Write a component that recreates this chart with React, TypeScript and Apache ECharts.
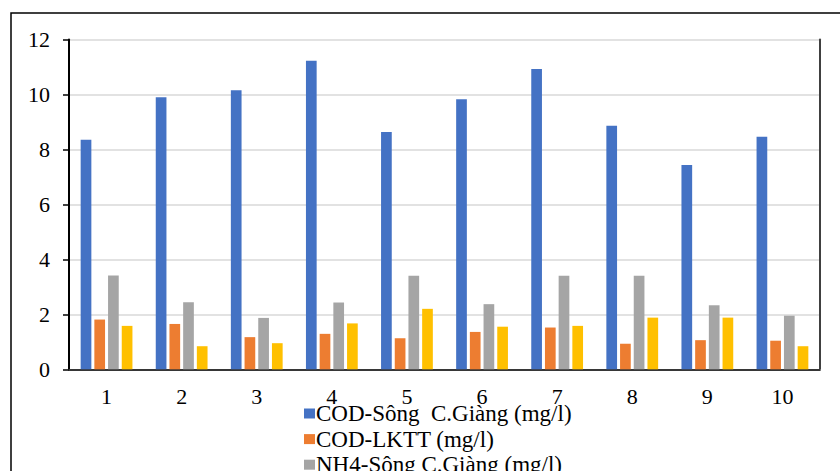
import React, { useEffect, useRef } from "react";
import * as echarts from "echarts";

// Sampling rounds 1..10
const categories = ["1", "2", "3", "4", "5", "6", "7", "8", "9", "10"];

const seriesNames = [
  "COD-Sông  C.Giàng (mg/l)",
  "COD-LKTT (mg/l)",
  "NH4-Sông C.Giàng (mg/l)",
  "NH4-LKTT (mg/l)",
];

const codSong = [8.35, 9.9, 10.15, 11.23, 8.63, 9.83, 10.93, 8.86, 7.43, 8.46];
const codLktt = [1.81, 1.65, 1.17, 1.29, 1.13, 1.36, 1.52, 0.93, 1.06, 1.04];
const nh4Song = [3.41, 2.44, 1.87, 2.43, 3.4, 2.37, 3.4, 3.4, 2.33, 1.95];
const nh4Lktt = [1.58, 0.84, 0.95, 1.67, 2.2, 1.55, 1.58, 1.88, 1.88, 0.84];

const colors = ["#4472C4", "#ED7D31", "#A5A5A5", "#FFC000"];

const FONT = "Liberation Serif";

export default function App() {
  const ref = useRef<HTMLDivElement>(null);

  useEffect(() => {
    if (!ref.current) return;
    const chart = echarts.init(ref.current, undefined, { renderer: "svg" });
    const values = [codSong, codLktt, nh4Song, nh4Lktt];

    chart.setOption({
      animation: false,
      color: colors,
      textStyle: { fontFamily: FONT },
      grid: { left: 69, right: 20, top: 39.5, bottom: 101.7, containLabel: false },
      graphic: [
        {
          type: "rect",
          shape: { x: 11, y: 13, width: 900, height: 600 },
          style: { fill: "none", stroke: "#000", lineWidth: 1.5 },
          silent: true,
        },
      ],
      legend: {
        orient: "vertical",
        left: 304,
        top: 402,
        padding: 0,
        height: 200,
        itemWidth: 11,
        itemHeight: 10,
        itemGap: 2.6,
        icon: "rect",
        textStyle: {
          fontFamily: FONT,
          fontSize: 23,
          lineHeight: 18,
          color: "#000",
          padding: [0, 0, 0, -4],
        },
        data: seriesNames,
      },
      xAxis: [
        {
          type: "category",
          data: categories,
          axisLine: { lineStyle: { color: "#d9d9d9", width: 2 } },
          axisTick: { show: false },
          axisLabel: { color: "#000", fontSize: 22, lineHeight: 16, fontFamily: FONT, margin: 19 },
        },
        {
          type: "category",
          position: "top",
          data: categories,
          axisLine: { lineStyle: { color: "#000", width: 1.5 } },
          axisTick: { show: false },
          axisLabel: { show: false },
        },
      ],
      yAxis: [
        {
          type: "value",
          min: 0,
          max: 12,
          interval: 2,
          axisLine: { show: true, lineStyle: { color: "#000", width: 2 } },
          axisTick: { show: true, length: 6, lineStyle: { color: "#000", width: 1.5 } },
          axisLabel: { color: "#000", fontSize: 22, fontFamily: FONT, margin: 19 },
          splitLine: { lineStyle: { color: "#d9d9d9", width: 1.5 } },
        },
        {
          type: "value",
          position: "right",
          min: 0,
          max: 12,
          interval: 2,
          axisLine: { show: true, lineStyle: { color: "#404040", width: 2 } },
          axisTick: { show: false },
          axisLabel: { show: false },
          splitLine: { show: false },
        },
      ],
      series: seriesNames.map((name, i) => ({
        name,
        type: "bar",
        data: values[i],
        barWidth: 10.7,
        barGap: "28%",
        itemStyle: { color: colors[i] },
      })),
    });

    return () => chart.dispose();
  }, []);

  return (
    <div
      ref={ref}
      style={{ position: "absolute", left: 0, top: 0, width: 840, height: 471, background: "#fff" }}
    />
  );
}
